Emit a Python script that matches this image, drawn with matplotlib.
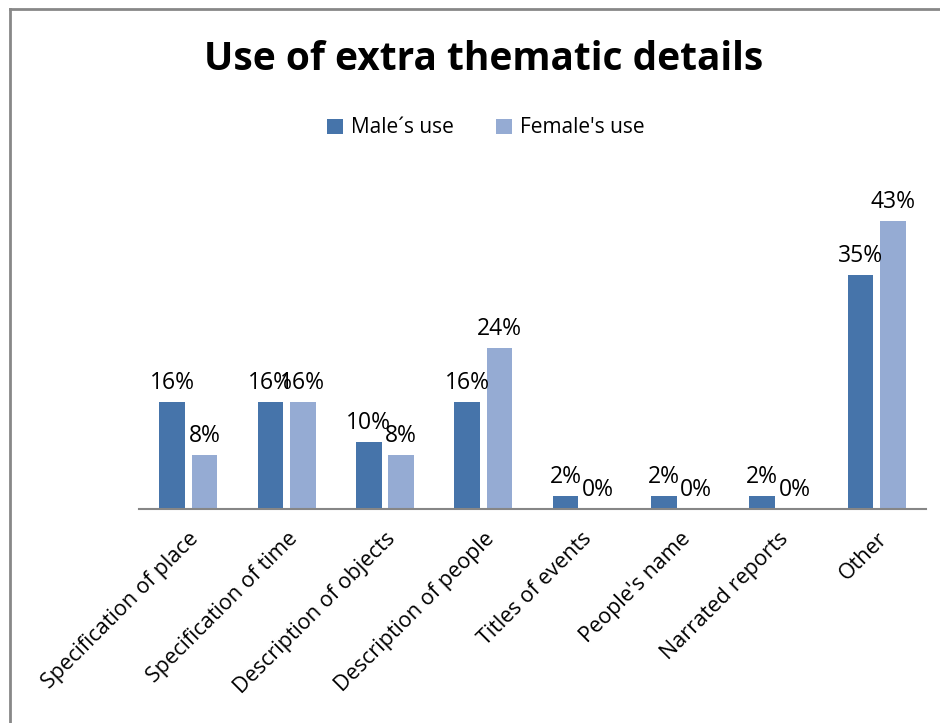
import matplotlib
matplotlib.use("Agg")
import matplotlib.pyplot as plt
import numpy as np

plt.rcParams["font.family"] = ["Open Sans", "DejaVu Sans"]

categories = ["Specification of place", "Specification of time", "Description of objects",
              "Description of people", "Titles of events", "People's name",
              "Narrated reports", "Other"]
male = [16, 16, 10, 16, 2, 2, 2, 35]
female = [8, 16, 8, 24, 0, 0, 0, 43]

male_color = "#4674AA"
female_color = "#95ABD3"

fig = plt.figure(figsize=(9.4, 7.23), dpi=100)
ax = fig.add_axes([0.148, 0.296, 0.837, 0.4633])

x = np.arange(len(categories))
w = 0.26
off = 0.165
b1 = ax.bar(x - off, male, w, color=male_color, label="Male\u00b4s use")
b2 = ax.bar(x + off, female, w, color=female_color, label="Female's use")

for bars, vals in ((b1, male), (b2, female)):
    for rect, v in zip(bars, vals):
        ax.annotate(f"{v}%", (rect.get_x() + rect.get_width() / 2, rect.get_height()),
                    xytext=(0, 5), textcoords="offset points",
                    ha="center", va="bottom", fontsize=16.5)

ax.set_xlim(-0.5, len(categories) - 0.5)
ax.set_ylim(0, 50)
ax.set_yticks([])
for s in ("top", "right", "left"):
    ax.spines[s].set_visible(False)
ax.spines["bottom"].set_color("#868686")
ax.spines["bottom"].set_linewidth(1.5)
ax.set_xticks(x)
ax.set_xticklabels(categories, rotation=45, ha="right", rotation_mode="anchor", fontsize=15.5)
ax.tick_params(axis="x", length=0, pad=14)

fig.text(0.515, 0.918, "Use of extra thematic details", ha="center", va="center",
         fontsize=28, fontweight="bold")
fig.legend(loc="center", bbox_to_anchor=(0.517, 0.823), ncol=2, frameon=False,
           fontsize=15, handlelength=0.75, handleheight=0.75, handletextpad=0.4,
           columnspacing=2.0)

# chart frame along the top and left edge
fig.add_artist(plt.Line2D([0.0105, 1.0], [0.9875, 0.9875], color="#888888", lw=2))
fig.add_artist(plt.Line2D([0.0105, 0.0105], [0.0, 0.9875], color="#888888", lw=2))

fig.savefig("out.png", dpi=100)
